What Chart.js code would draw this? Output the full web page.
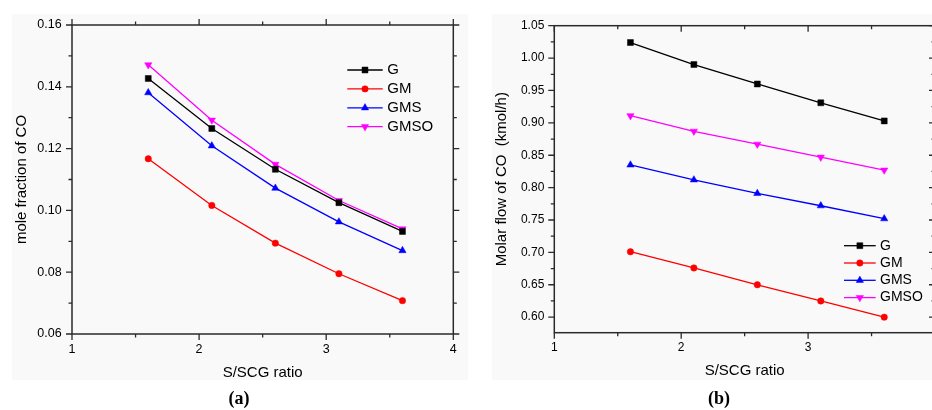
<!DOCTYPE html>
<html><head><meta charset="utf-8">
<script src="https://cdn.jsdelivr.net/npm/chart.js@4.4.1/dist/chart.umd.min.js"></script>
<style>
html,body{margin:0;padding:0;background:#fff;}
body{width:932px;height:410px;overflow:hidden;position:relative;}
.panel{position:absolute;background:#f9f9f9;}
canvas{position:absolute;top:0;}
.cap{position:absolute;top:389px;width:60px;text-align:center;font:bold 18px 'Liberation Serif','DejaVu Serif',serif;line-height:18px;color:#000;}
</style></head><body>
<div class="panel" style="left:12px;top:14px;width:456px;height:366px"></div>
<div class="panel" style="left:492px;top:14px;width:440px;height:366px"></div>
<canvas id="ca" width="470" height="410" style="left:0;width:470px;height:410px"></canvas>
<canvas id="cb" width="480" height="410" style="left:470px;width:480px;height:410px"></canvas>
<div class="cap" style="left:209px">(a)</div>
<div class="cap" style="left:689px">(b)</div>
<script>
// ---- data ----
const xValues = [1.6, 2.1, 2.6, 3.1, 3.6];
const seriesNames = ['G', 'GM', 'GMS', 'GMSO'];
// (a) mole fraction of CO
const fracG    = [0.1427, 0.1265, 0.1133, 0.1025, 0.0932];
const fracGM   = [0.1167, 0.1016, 0.0894, 0.0795, 0.0708];
const fracGMS  = [0.1381, 0.1209, 0.1072, 0.0963, 0.0870];
const fracGMSO = [0.1471, 0.1292, 0.1149, 0.1032, 0.0940];
// (b) molar flow of CO (kmol/h)
const flowG    = [1.024, 0.990, 0.960, 0.931, 0.903];
const flowGM   = [0.701, 0.676, 0.650, 0.625, 0.600];
const flowGMS  = [0.835, 0.812, 0.791, 0.772, 0.752];
const flowGMSO = [0.911, 0.887, 0.867, 0.847, 0.827];
// tick labels
const xTicks = [1, 2, 3, 4];
const yTicksFrac = [0.06, 0.08, 0.10, 0.12, 0.14, 0.16];
const yTicksFlow = [0.60, 0.65, 0.70, 0.75, 0.80, 0.85, 0.90, 0.95, 1.00, 1.05];
// titles
const xTitle = 'S/SCG ratio';
const yTitleA = 'mole fraction of CO';
const yTitleB = 'Molar flow of CO  (kmol/h)';

const FONT = "'Liberation Sans', Arial, sans-serif";
const colors = ['#000000', '#ff0000', '#0000ff', '#ff00ff'];
const marks = [
  {pointStyle: 'rect', radius: 4.2, rotation: 0},
  {pointStyle: 'circle', radius: 3.2, rotation: 0},
  {pointStyle: 'triangle', radius: 4.2, rotation: 0},
  {pointStyle: 'triangle', radius: 4.2, rotation: 180}
];

function makeDatasets(arrs) {
  return arrs.map((arr, i) => ({
    label: seriesNames[i],
    data: xValues.map((x, j) => ({x: x, y: arr[j]})),
    borderColor: colors[i], backgroundColor: colors[i],
    borderWidth: 1.3, tension: 0, fill: false,
    pointStyle: marks[i].pointStyle, pointRadius: marks[i].radius,
    pointRotation: marks[i].rotation,
    pointBackgroundColor: colors[i], pointBorderColor: colors[i], pointBorderWidth: 0.5
  }));
}

function tickValues(min, max, step) {
  const r = [];
  for (let i = Math.ceil(min / step - 1e-9); i <= Math.floor(max / step + 1e-9); i++) r.push(i * step);
  return r;
}
function isMult(v, step) { const q = v / step; return Math.abs(q - Math.round(q)) < 1e-6; }

function framePlugin(o) {
  return {
    id: 'frame',
    beforeDatasetsDraw(chart) {
      const {ctx, chartArea: a} = chart;
      const x = chart.scales.x, y = chart.scales.y;
      ctx.save();
      ctx.strokeStyle = '#2a2a2a';
      ctx.lineWidth = 1.5;
      ctx.strokeRect(a.left, a.top, a.right - a.left, a.bottom - a.top);
      ctx.lineWidth = 1.3;
      ctx.beginPath();
      for (const v of tickValues(x.min, x.max, o.xMinor)) {
        const len = isMult(v, o.xMajor) ? 6 : 3.5;
        const px = x.getPixelForValue(v);
        ctx.moveTo(px, a.bottom); ctx.lineTo(px, a.bottom + len);
        ctx.moveTo(px, a.top); ctx.lineTo(px, a.top + (o.inward ? len : -len));
      }
      for (const v of tickValues(y.min, y.max, o.yMinor)) {
        const len = isMult(v, o.yMajor) ? 6 : 3.5;
        const py = y.getPixelForValue(v);
        ctx.moveTo(a.left, py); ctx.lineTo(a.left - len, py);
        ctx.moveTo(a.right, py); ctx.lineTo(a.right + (o.inward ? -len : len), py);
      }
      ctx.stroke();
      ctx.restore();
    }
  };
}

function legendPlugin(o) {
  return {
    id: 'customLegend',
    afterDatasetsDraw(chart) {
      const ctx = chart.ctx;
      ctx.save();
      chart.data.datasets.forEach((ds, i) => {
        const y = o.y0 + i * o.dy;
        ctx.strokeStyle = ds.borderColor;
        ctx.lineWidth = ds.borderWidth;
        ctx.beginPath(); ctx.moveTo(o.x1, y); ctx.lineTo(o.x2, y); ctx.stroke();
        ctx.fillStyle = ds.pointBackgroundColor;
        ctx.strokeStyle = ds.pointBorderColor;
        ctx.lineWidth = ds.pointBorderWidth;
        Chart.helpers.drawPoint(ctx, {pointStyle: ds.pointStyle, rotation: ds.pointRotation,
          radius: ds.pointRadius, borderWidth: ds.pointBorderWidth}, (o.x1 + o.x2) / 2, y);
        ctx.fillStyle = '#000';
        ctx.font = o.font;
        ctx.textBaseline = 'middle';
        ctx.textAlign = 'left';
        ctx.fillText(ds.label, o.tx, y);
      });
      ctx.restore();
    }
  };
}

function makeChart(id, o) {
  return new Chart(document.getElementById(id), {
    type: 'line',
    data: {datasets: makeDatasets(o.series)},
    options: {
      responsive: false, animation: false, devicePixelRatio: 1,
      layout: {padding: o.padding},
      plugins: {legend: {display: false}, tooltip: {enabled: false}},
      scales: {
        x: {
          type: 'linear', min: 1, max: 4,
          grid: {display: false, drawTicks: false}, border: {display: false},
          afterBuildTicks: s => { s.ticks = xTicks.map(v => ({value: v})); },
          afterFit: s => { s.height = o.xHeight; },
          ticks: {autoSkip: false, maxRotation: 0, padding: o.xPad, color: '#000',
            font: {family: FONT, size: o.tickSize}, callback: v => String(v)},
          title: {display: true, text: xTitle, color: '#000',
            font: {family: FONT, size: 15}, padding: {top: 0, bottom: o.xTitlePad}}
        },
        y: {
          type: 'linear', min: o.yMin, max: o.yMax,
          grid: {display: false, drawTicks: false}, border: {display: false},
          afterBuildTicks: s => { s.ticks = o.yTicks.map(v => ({value: v})); },
          afterFit: s => { s.width = o.yWidth; },
          ticks: {autoSkip: false, padding: o.yPad, color: '#000',
            font: {family: FONT, size: o.tickSize}, callback: v => Number(v).toFixed(2)},
          title: {display: true, text: o.yTitle, color: '#000',
            font: {family: FONT, size: 15}, padding: {top: o.yTitlePad, bottom: 0}}
        }
      }
    },
    plugins: [framePlugin(o.frame), legendPlugin(o.legend)]
  });
}

makeChart('ca', {
  series: [fracG, fracGM, fracGMS, fracGMSO],
  padding: {left: 0, right: 16.7, top: 25, bottom: 0},
  xHeight: 76, yWidth: 72, xPad: 8, yPad: 10.3, tickSize: 12.5,
  xTitlePad: 28.5, yTitlePad: 12.5,
  yMin: 0.06, yMax: 0.16, yTicks: yTicksFrac, yTitle: yTitleA,
  frame: {xMinor: 0.5, xMajor: 1, yMinor: 0.01, yMajor: 0.02, inward: false},
  legend: {x1: 347.3, x2: 382.7, tx: 387.3, y0: 70, dy: 18.9, font: '15px ' + FONT}
});

makeChart('cb', {
  series: [flowG, flowGM, flowGMS, flowGMSO],
  padding: {left: 0, right: 15, top: 25.7, bottom: 0},
  xHeight: 77.3, yWidth: 84.3, xPad: 7.5, yPad: 10, tickSize: 12,
  xTitlePad: 30, yTitlePad: 22.5,
  yMin: 0.576, yMax: 1.05, yTicks: yTicksFlow, yTitle: yTitleB,
  frame: {xMinor: 0.5, xMajor: 1, yMinor: 0.025, yMajor: 0.05, inward: true},
  legend: {x1: 374, x2: 405.7, tx: 410, y0: 245.7, dy: 17.3, font: '14px ' + FONT}
});
</script>
</body></html>
